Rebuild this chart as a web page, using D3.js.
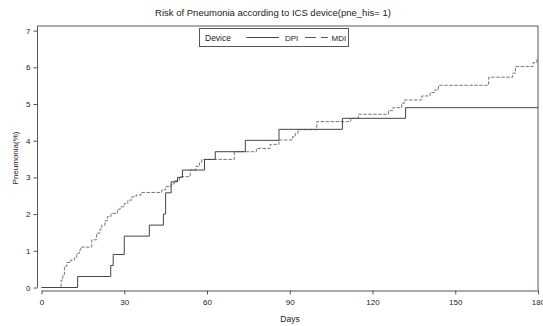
<!DOCTYPE html>
<html>
<head>
<meta charset="utf-8">
<script src="https://cdn.jsdelivr.net/npm/d3@7"></script>
<style>
  body { margin: 0; background: #fff; }
  text { font-family: 'Liberation Sans', Arial, sans-serif; fill: #222; }
</style>
</head>
<body>
<div id="chart"></div>
<script>
// step points: day at which the cumulative risk changes, and the new value (%)
const dpiDays = [0, 13.1, 25.1, 26.0, 30.0, 39.1, 44.2, 45.0, 47.0, 49.3, 51.1, 59.1, 63.0, 73.9, 86.1, 109.1, 132.0, 180];
const dpiRisk = [0, 0.3, 0.6, 0.9, 1.4, 1.7, 2.0, 2.58, 2.88, 3.0, 3.2, 3.49, 3.7, 4.01, 4.31, 4.61, 4.9, 4.9];

const mdiDays = [0, 7.1, 7.7, 8.3, 9.2, 10.6, 12.0, 12.8, 13.7, 14.2, 18.2, 20.0, 21.2, 21.8, 23.0, 23.9, 25.2, 27.5, 28.5, 30.0,
  31.3, 32.7, 34.3, 36.1, 43.6, 45.0, 47.0, 48.1, 50.0, 53.9, 56.0, 57.3, 58.1, 69.9, 77.9, 82.9, 86.1, 91.0, 92.0, 93.0,
  99.8, 112.1, 114.9, 125.8, 127.4, 130.6, 131.5, 137.9, 140.9, 142.4, 143.9, 162.1, 170.8, 171.8, 178.2, 179.6, 180];
const mdiRisk = [0, 0.2, 0.35, 0.58, 0.68, 0.75, 0.82, 0.93, 1.02, 1.1, 1.3, 1.48, 1.59, 1.7, 1.82, 1.93, 2.02, 2.13, 2.2, 2.29,
  2.38, 2.47, 2.52, 2.59, 2.66, 2.75, 2.82, 2.91, 3.02, 3.2, 3.3, 3.4, 3.49, 3.7, 3.79, 3.9, 4.02, 4.11, 4.2, 4.3,
  4.52, 4.61, 4.72, 4.82, 4.9, 5.02, 5.11, 5.22, 5.31, 5.38, 5.51, 5.73, 5.84, 6.02, 6.13, 6.22, 6.22];

const xTicks = [0, 30, 60, 90, 120, 150, 180];
const yTicks = [0, 1, 2, 3, 4, 5, 6, 7];
const seriesNames = ['DPI', 'MDI'];

const width = 543;
const height = 326;
const lineColor = '#555';
const font = "'Liberation Sans', Arial, sans-serif";

const svg = d3.select('#chart')
  .append('svg')
  .attr('width', width)
  .attr('height', height);

const x = d3.scaleLinear().domain([0, 180]).range([41.5, 538]);
const y = d3.scaleLinear().domain([0, 7]).range([287.5, 30.6]);

const frameTop = 26;
const frameLeft = 37.5;
const axisY = 290.5;

// title
svg.append('text')
  .attr('x', 273)
  .attr('y', 16)
  .attr('text-anchor', 'middle')
  .style('font-size', '9.5px')
  .text('Risk of Pneumonia according to ICS device(pne_his= 1)');

// frame lines
svg.append('path')
  .attr('d', `M${frameLeft},${y(0)}V${frameTop}H${x(180)}V${axisY}`)
  .attr('fill', 'none')
  .attr('stroke', lineColor)
  .attr('stroke-width', 1);

// x axis (offset below the data area, like the original)
const xAxis = svg.append('g')
  .attr('transform', 'translate(0,' + axisY + ')')
  .call(d3.axisBottom(x).tickValues(xTicks).tickSize(4).tickPadding(5).tickSizeOuter(0));
xAxis.select('.domain').attr('stroke', lineColor);
xAxis.selectAll('line').attr('stroke', lineColor);
xAxis.selectAll('text')
  .style('font-size', '8px')
  .style('font-family', font)
  .attr('fill', '#222');

// y axis
const yAxis = svg.append('g')
  .attr('transform', 'translate(' + frameLeft + ',0)')
  .call(d3.axisLeft(y).tickValues(yTicks).tickFormat(d3.format('d')).tickSize(4).tickPadding(3).tickSizeOuter(0));
yAxis.select('.domain').remove();
yAxis.selectAll('line').attr('stroke', lineColor);
yAxis.selectAll('text')
  .style('font-size', '8px')
  .style('font-family', font)
  .attr('fill', '#222');

// axis titles
svg.append('text')
  .attr('x', 290)
  .attr('y', 322)
  .attr('text-anchor', 'middle')
  .style('font-size', '8.5px')
  .text('Days');

svg.append('text')
  .attr('transform', 'translate(18,158)rotate(-90)')
  .attr('text-anchor', 'middle')
  .style('font-size', '8px')
  .text('Pneumonia(%)');

// step curves
const line = d3.line()
  .x(d => x(d[0]))
  .y(d => y(d[1]))
  .curve(d3.curveStepAfter);

const dpi = dpiDays.map((d, i) => [d, dpiRisk[i]]);
const mdi = mdiDays.map((d, i) => [d, mdiRisk[i]]);

svg.append('path')
  .datum(mdi)
  .attr('d', line)
  .attr('fill', 'none')
  .attr('stroke', '#777')
  .attr('stroke-width', 1)
  .attr('stroke-dasharray', '3.5,1.5');

svg.append('path')
  .datum(dpi)
  .attr('d', line)
  .attr('fill', 'none')
  .attr('stroke', '#444')
  .attr('stroke-width', 1);

// legend
const legend = svg.append('g');
legend.append('rect')
  .attr('x', 199.5)
  .attr('y', 28.5)
  .attr('width', 149)
  .attr('height', 18)
  .attr('fill', '#fff')
  .attr('stroke', lineColor);
legend.append('text')
  .attr('x', 205)
  .attr('y', 40.5)
  .style('font-size', '8.5px')
  .text('Device');
legend.append('line')
  .attr('x1', 246.5).attr('x2', 279)
  .attr('y1', 37.5).attr('y2', 37.5)
  .attr('stroke', '#444');
legend.append('text')
  .attr('x', 285)
  .attr('y', 40.5)
  .style('font-size', '8px')
  .text(seriesNames[0]);
legend.append('line')
  .attr('x1', 305).attr('x2', 328)
  .attr('y1', 37.5).attr('y2', 37.5)
  .attr('stroke', '#555')
  .attr('stroke-dasharray', '11,5');
legend.append('text')
  .attr('x', 331.5)
  .attr('y', 40.5)
  .style('font-size', '8px')
  .text(seriesNames[1]);
</script>
</body>
</html>
